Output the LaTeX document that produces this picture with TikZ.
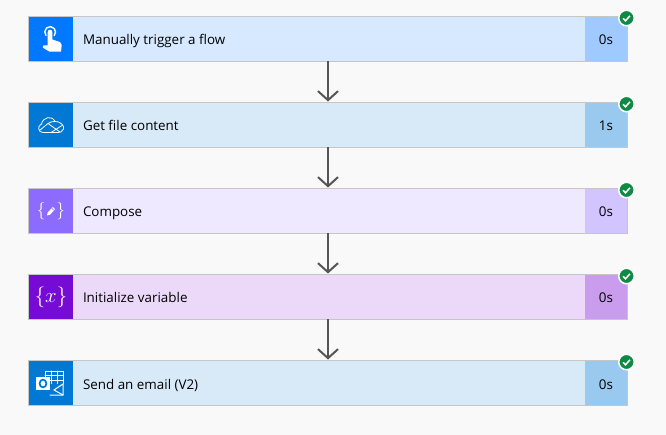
\documentclass[tikz,border=0pt]{standalone}
\usepackage{fontspec}
\setmainfont{Open Sans}
\usetikzlibrary{positioning, arrows.meta}
\definecolor{pagebg}{HTML}{F9F9F9}
\definecolor{cardline}{HTML}{C6C6C6}
\definecolor{flowline}{HTML}{555555}
\definecolor{okgreen}{HTML}{0E8A45}
\definecolor{triggerfill}{HTML}{D6E9FF}
\definecolor{triggertimefill}{HTML}{9FC9FF}
\definecolor{triggericonfill}{HTML}{0078FF}
\definecolor{officefill}{HTML}{D8E9F8}
\definecolor{officetimefill}{HTML}{99C9EE}
\definecolor{officeiconfill}{HTML}{0078D4}
\definecolor{composefill}{HTML}{EEE9FF}
\definecolor{composetimefill}{HTML}{D2C4FF}
\definecolor{composeiconfill}{HTML}{8C6CFF}
\definecolor{variablefill}{HTML}{ECD9FA}
\definecolor{variabletimefill}{HTML}{C99CEE}
\definecolor{variableiconfill}{HTML}{770BD6}
\tikzstyle{card} = [rectangle, minimum width=599pt, minimum height=45pt, inner sep=0pt, outer sep=0pt, draw=cardline, line width=1pt]
\tikzstyle{iconbox} = [rectangle, anchor=west, xshift=0.5pt, minimum width=44pt, minimum height=44pt, inner sep=0pt, outer sep=0pt]
\tikzstyle{timebox} = [rectangle, anchor=east, xshift=-0.5pt, minimum width=42pt, minimum height=44pt, inner sep=0pt, outer sep=0pt, text height=12pt, text depth=0pt, font=\fontsize{13.4}{16}\selectfont]
\tikzstyle{steptext} = [inner sep=0pt, outer sep=0pt, text height=12pt, text depth=0pt, font=\fontsize{13.4}{16}\selectfont]
\tikzstyle{okbadge} = [circle, minimum size=15.5pt, inner sep=0pt, fill=okgreen, draw=white, line width=1.5pt]
\tikzstyle{arrow} = [line width=2pt, draw=flowline, -{Straight Barb[length=9pt, width=20pt, line width=2pt]}, shorten >=1pt]
\tikzstyle{glyph} = [draw=white, line width=1pt, line join=round, line cap=round]
\begin{document}
\begin{tikzpicture}[x=1pt, y=-1pt, node distance=86pt]
	\fill [pagebg] (0,0) rectangle (666,435);

	\node (trigger) [card, fill=triggerfill] at (328,39) {};
	\node (content) [card, fill=officefill, below of=trigger] {};
	\node (compose) [card, fill=composefill, below of=content] {};
	\node (variable) [card, fill=variablefill, below of=compose] {};
	\node (email) [card, fill=officefill, below of=variable] {};

	\node (triggericon) [iconbox, fill=triggericonfill] at (trigger.west) {};
	\node (contenticon) [iconbox, fill=officeiconfill] at (content.west) {};
	\node (composeicon) [iconbox, fill=composeiconfill] at (compose.west) {};
	\node (variableicon) [iconbox, fill=variableiconfill] at (variable.west) {};
	\node (emailicon) [iconbox, fill=officeiconfill] at (email.west) {};

	\node (triggertext) [steptext, right=10pt of triggericon] {Manually trigger a flow};
	\node (contenttext) [steptext, right=10pt of contenticon] {Get file content};
	\node (composetext) [steptext, right=10pt of composeicon] {Compose};
	\node (variabletext) [steptext, right=10pt of variableicon] {Initialize variable};
	\node (emailtext) [steptext, right=10pt of emailicon] {Send an email (V2)};

	\node (triggertime) [timebox, fill=triggertimefill] at (trigger.east) {0s};
	\node (contenttime) [timebox, fill=officetimefill] at (content.east) {1s};
	\node (composetime) [timebox, fill=composetimefill] at (compose.east) {0s};
	\node (variabletime) [timebox, fill=variabletimefill] at (variable.east) {0s};
	\node (emailtime) [timebox, fill=officetimefill] at (email.east) {0s};

	\draw [arrow] (trigger) -- (content);
	\draw [arrow] (content) -- (compose);
	\draw [arrow] (compose) -- (variable);
	\draw [arrow] (variable) -- (email);

	% green badges with a tick
	\foreach \card in {trigger, content, compose, variable, email} {
		\node (\card ok) [okbadge, xshift=-1pt, yshift=-1.5pt] at (\card.north east) {};
		\draw [white, line width=1.5pt] ([shift={(-3.5,0.3)}]\card ok.center) -- ++(2.5,2.5) -- ++(4.5,-5);
	}

	% touch icon
	\begin{scope}[shift={(triggericon.center)}]
		\draw [glyph, line width=1.4pt] (-5,-3.5) arc[start angle=140, end angle=400, radius=5.4];
		\fill [white] (-3.3,-7) arc[start angle=180, end angle=360, radius=2.3] -- (1.3,0.5) -- (9,3) -- (10.7,6) -- (10,12.7) -- (-1.5,12.7) -- (-8.3,8.5) -- (-7.5,6.5) -- (-3.3,6.5) -- cycle;
	\end{scope}

	% cloud icon
	\begin{scope}[shift={(contenticon.center)}]
		\draw [glyph, line width=0.8pt] (-8,7.5) .. controls (-13,7.5) and (-14,1) .. (-9.5,-1) .. controls (-8,-8) and (1,-10) .. (4,-3.5) .. controls (9,-4) and (14,1) .. (12.5,4) .. controls (11.5,7) and (9,7.5) .. (7,7.5) -- cycle;
		\draw [glyph, line width=0.8pt] (-11.5,5.5) -- (-3,-1.5) -- (9,7) (-3,-1.5) .. controls (-1,-3) and (1,-3.5) .. (4,-3.5) (11,0.5) -- (0,7.5);
	\end{scope}

	% braces with a pencil
	\begin{scope}[shift={(composeicon.center)}]
		\node (composebrace) [text=white, inner sep=0pt, font=\fontsize{18}{20}\selectfont] at (0,0) {$\{\hspace{11pt}\}$};
		\fill [white] (-4,4.5) -- (-3.3,1.5) -- (1.8,-4) -- (4,-1.8) -- (-1,3.7) -- cycle;
		\draw [composeiconfill, line width=0.5pt] (0.8,-2.8) -- (2.9,-0.7);
	\end{scope}

	% braces with x
	\node (variablesign) [text=white, inner sep=0pt, font=\fontsize{21}{25}\selectfont] at (variableicon.center) {$\{x\}$};

	% mail and calendar icon
	\begin{scope}[shift={(emailicon.center)}]
		\draw [glyph] (-6,-12) rectangle (12,3);
		\draw [glyph, line width=0.8pt] (-6,-7.5) -- (12,-7.5) (-6,-3) -- (12,-3) (0,-12) -- (0,3) (6,-12) -- (6,3);
		\fill [officeiconfill] (-2,1) rectangle (13,13);
		\draw [glyph] (-1,12) -- (12,12) -- (12,1) -- (3,7);
		\draw [glyph] (3,7) -- (12,12);
		\fill [white] (-15,-6) rectangle (-1,7);
		\draw [officeiconfill, line width=1.7pt] (-8,0.5) circle[x radius=3.4, y radius=3.9];
	\end{scope}
\end{tikzpicture}
\end{document}
